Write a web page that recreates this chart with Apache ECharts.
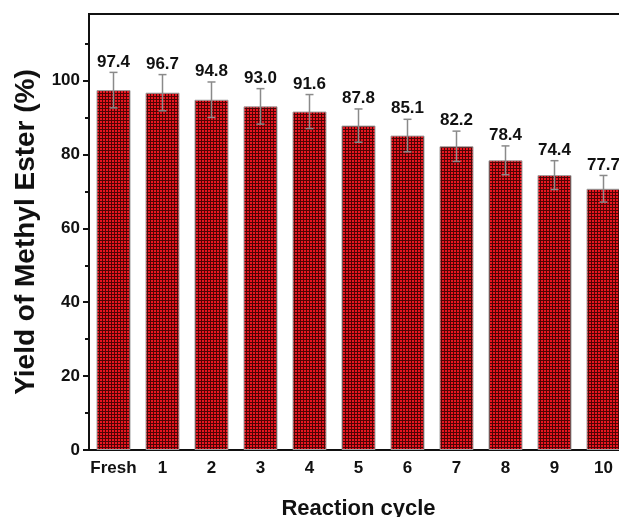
<!DOCTYPE html>
<html><head><meta charset="utf-8">
<script src="https://cdn.jsdelivr.net/npm/echarts@6/dist/echarts.min.js"></script>
<style>html,body{margin:0;padding:0;background:#fff}#c{width:619px;height:517px}</style>
</head><body><div id="c"></div>
<script>
const categories = ['Fresh','1','2','3','4','5','6','7','8','9','10'];
const yields = [97.4, 96.7, 94.8, 93.0, 91.6, 87.8, 85.1, 82.2, 78.4, 74.4, 70.7];
const errors = [4.8, 4.9, 4.8, 4.8, 4.6, 4.5, 4.4, 4.1, 3.9, 3.9, 3.6];
const valueLabels = ['97.4','96.7','94.8','93.0','91.6','87.8','85.1','82.2','78.4','74.4','77.7'];
const yTicks = [0, 20, 40, 60, 80, 100];

const FONT = '"Liberation Sans", Arial, sans-serif';

// plaid pattern for bars
const pc = document.createElement('canvas');
pc.width = 3; pc.height = 3;
const g = pc.getContext('2d');
g.fillStyle = '#ea1620'; g.fillRect(0,0,3,3);
g.fillStyle = '#500404'; g.fillRect(0,0,3,1); g.fillRect(0,0,1,3);

const chart = echarts.init(document.getElementById('c'), null, {renderer:'canvas'});
const errData = categories.map((c,i)=>[i, yields[i]-errors[i], yields[i]+errors[i], valueLabels[i]]);

chart.setOption({
  animation:false,
  grid:{left:89, width:539, top:14, height:436, containLabel:false, outerBoundsMode:'none',
        show:true, borderColor:'#111', borderWidth:2, backgroundColor:'transparent'},
  xAxis:[{
    type:'category', data:categories,
    name:'Reaction cycle', nameLocation:'middle', nameGap:48,
    nameTextStyle:{fontFamily:FONT, fontWeight:'bold', fontSize:22, color:'#111'},
    axisLine:{lineStyle:{color:'#111', width:2}},
    axisTick:{alignWithLabel:true, interval:0, length:7, lineStyle:{color:'#111', width:2}},
    axisLabel:{interval:0, fontFamily:FONT, fontWeight:'bold', fontSize:17, color:'#111', margin:10},
    splitLine:{show:false}
  },{
    type:'category', data:categories, position:'bottom',
    axisLine:{show:false},
    axisTick:{interval:0, length:4, lineStyle:{color:'#111', width:2}},
    axisLabel:{show:false}, splitLine:{show:false}
  }],
  yAxis:{
    type:'value', min:0, max:118, interval:20,
    name:'Yield of Methyl Ester (%)', nameLocation:'middle', nameGap:46,
    nameTextStyle:{fontFamily:FONT, fontWeight:'bold', fontSize:28, color:'#111'},
    axisLine:{show:true, lineStyle:{color:'#111', width:2}},
    axisTick:{show:true, length:6, lineStyle:{color:'#111', width:2}, customValues: yTicks},
    minorTick:{show:true, splitNumber:2, length:4, lineStyle:{color:'#111', width:2}},
    axisLabel:{fontFamily:FONT, fontWeight:'bold', fontSize:17, color:'#111', margin:9, customValues: yTicks},
    splitLine:{show:false}
  },
  series:[{
    type:'bar', data:yields, barWidth:34,
    itemStyle:{color:{image:pc, repeat:'repeat'}, borderColor:'#a0a0a0', borderWidth:1}
  },{
    type:'custom', data:errData, z:5,
    encode:{x:0, y:[1,2]},
    renderItem:function(params, api){
      const x = api.value(0);
      const lo = api.coord([x, api.value(1)]);
      const hi = api.coord([x, api.value(2)]);
      const cw = 4;
      const st = {stroke:'#8a8a8a', lineWidth:1.5};
      return {type:'group', children:[
        {type:'line', shape:{x1:lo[0], y1:lo[1], x2:hi[0], y2:hi[1]}, style:st},
        {type:'line', shape:{x1:lo[0]-cw, y1:lo[1], x2:lo[0]+cw, y2:lo[1]}, style:st},
        {type:'line', shape:{x1:hi[0]-cw, y1:hi[1], x2:hi[0]+cw, y2:hi[1]}, style:st},
        {type:'text', style:{text: valueLabels[params.dataIndex], x:hi[0], y:hi[1]-2, align:'center', verticalAlign:'bottom',
          font:'bold 17px ' + FONT, fill:'#111'}}
      ]};
    }
  }]
});
</script></body></html>
